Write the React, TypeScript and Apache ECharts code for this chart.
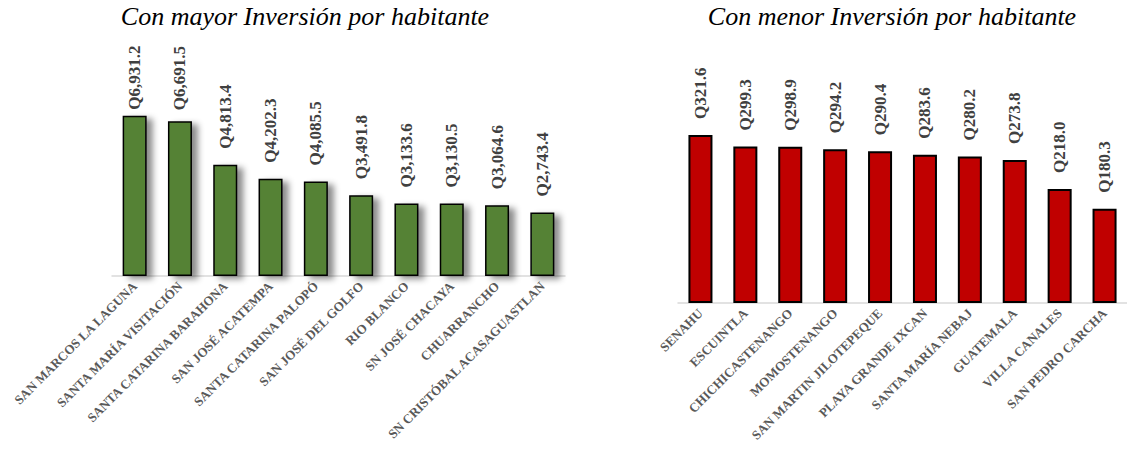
import React, { useEffect, useRef } from "react";
import * as echarts from "echarts";

const leftCategories = [
  "SAN MARCOS LA LAGUNA",
  "SANTA MARÍA VISITACIÓN",
  "SANTA CATARINA BARAHONA",
  "SAN JOSÉ ACATEMPA",
  "SANTA CATARINA PALOPÓ",
  "SAN JOSÉ DEL GOLFO",
  "RIO BLANCO",
  "SN JOSÉ CHACAYA",
  "CHUARRANCHO",
  "SN CRISTÓBAL ACASAGUASTLAN",
];
const leftValues = [6931.2, 6691.5, 4813.4, 4202.3, 4085.5, 3491.8, 3133.6, 3130.5, 3064.6, 2743.4];

const rightCategories = [
  "SENAHU",
  "ESCUINTLA",
  "CHICHICASTENANGO",
  "MOMOSTENANGO",
  "SAN MARTIN JILOTEPEQUE",
  "PLAYA GRANDE IXCAN",
  "SANTA MARÍA NEBAJ",
  "GUATEMALA",
  "VILLA CANALES",
  "SAN PEDRO CARCHA",
];
const rightValues = [321.6, 299.3, 298.9, 294.2, 290.4, 283.6, 280.2, 273.8, 218.0, 180.3];

const leftTitle = "Con mayor Inversión por habitante";
const rightTitle = "Con menor Inversión por habitante";

const SERIF = "Liberation Serif";

const fmt = (v: number) =>
  "Q" + v.toLocaleString("en-US", { minimumFractionDigits: 1, maximumFractionDigits: 1 });

export default function App() {
  const ref = useRef<HTMLDivElement>(null);
  useEffect(() => {
    document.body.style.margin = "0";
    if (!ref.current) return;
    const chart = echarts.init(ref.current, undefined, { renderer: "svg" });
    const leftDistances = [6, 11];
    const valueLabel = {
      show: true,
      position: "top",
      rotate: 90,
      align: "left",
      verticalAlign: "middle",
      distance: 16,
      fontFamily: SERIF,
      fontWeight: "bold",
      fontSize: 17,
      color: "#404040",
      formatter: (p: any) => fmt(p.value),
    };
    const catLabel = {
      rotate: 45,
      interval: 0,
      fontFamily: SERIF,
      fontWeight: "bold",
      fontSize: 13,
      color: "#595959",
      margin: 8,
    };
    const titleFont = "italic 26px Liberation Serif";
    chart.setOption({
      animation: false,
      backgroundColor: "#ffffff",
      graphic: [
        {
          type: "text",
          x: 305,
          y: 3,
          style: { text: leftTitle, font: titleFont, fill: "#000", align: "center", verticalAlign: "top" },
        },
        {
          type: "text",
          x: 892,
          y: 3,
          style: { text: rightTitle, font: titleFont, fill: "#000", align: "center", verticalAlign: "top" },
        },
      ],
      grid: [
        { left: 112, top: 91, width: 453, height: 185 },
        { left: 678, top: 94, width: 455, height: 209 },
      ],
      xAxis: [
        {
          type: "category",
          gridIndex: 0,
          data: leftCategories,
          axisTick: { show: false },
          axisLine: { lineStyle: { color: "#d9d9d9", width: 1.5 } },
          axisLabel: catLabel,
        },
        {
          type: "category",
          gridIndex: 1,
          data: rightCategories,
          axisTick: { show: false },
          axisLine: { lineStyle: { color: "#d9d9d9", width: 1.5 } },
          axisLabel: catLabel,
        },
      ],
      yAxis: [
        { type: "value", gridIndex: 0, min: 0, max: 8000, show: false, splitLine: { show: false } },
        { type: "value", gridIndex: 1, min: 0, max: 400, show: false, splitLine: { show: false } },
      ],
      series: [
        {
          type: "bar",
          xAxisIndex: 0,
          yAxisIndex: 0,
          barWidth: "53%",
          data: leftValues.map((v, i) =>
            i < leftDistances.length ? { value: v, label: { distance: leftDistances[i] } } : v
          ),
          itemStyle: {
            color: "#548235",
            borderColor: "#000000",
            borderWidth: 1.5,
            shadowColor: "rgba(0,0,0,0.45)",
            shadowBlur: 6,
            shadowOffsetX: 6,
            shadowOffsetY: 3,
          },
          label: valueLabel,
        },
        {
          type: "bar",
          xAxisIndex: 1,
          yAxisIndex: 1,
          barWidth: "53.5%",
          data: rightValues,
          itemStyle: {
            color: "#C00000",
            borderColor: "#000000",
            borderWidth: 2,
          },
          label: valueLabel,
        },
      ],
    });
    return () => chart.dispose();
  }, []);
  return <div ref={ref} style={{ width: 1127, height: 453 }} />;
}
